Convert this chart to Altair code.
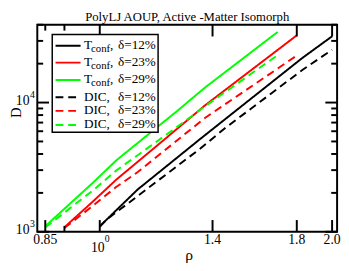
import altair as alt
import pandas as pd

# ---- data (rho, D) ----
series_names = ["Tconf, δ=12%", "Tconf, δ=23%", "Tconf, δ=29%",
                "DIC, δ=12%", "DIC, δ=23%", "DIC, δ=29%"]
series_colors = ["#000000", "#ff0000", "#00ff00", "#000000", "#ff0000", "#00ff00"]
series_dashes = [[1, 0], [1, 0], [1, 0], [8, 5], [8, 5], [8, 5]]

rho_T12 = [1.0, 1.12, 1.35, 1.83, 2.0]
D_T12 = [1103, 2127, 5237, 22130, 32560]
rho_T23 = [0.90, 0.98, 1.05, 1.26, 1.37, 1.80]
D_T23 = [1084, 1717, 2526, 6272, 9548, 33130]
rho_T29 = [0.85, 0.98, 1.05, 1.26, 1.37, 1.70]
D_T29 = [1103, 2399, 3560, 8613, 13115, 35170]
rho_DIC12 = [1.0, 1.02, 1.35, 1.45, 1.83, 2.0]
D_DIC12 = [1090, 1239, 4411, 6272, 17860, 25600]
rho_DIC23 = [0.90, 0.98, 1.05, 1.12, 1.37, 1.80]
D_DIC23 = [1071, 1590, 2221, 2897, 7639, 23100]
rho_DIC29 = [0.85, 0.98, 1.05, 1.26, 1.37, 1.70]
D_DIC29 = [1080, 2091, 2973, 6491, 9384, 23300]

# ---- axis ticks / labels ----
x_major_bottom = [0.85, 1.0, 1.4, 1.8, 2.0]
x_minor_bottom = [0.9]
x_major_top = [1.0, 1.4, 1.8, 2.0]
x_minor_top = [0.85, 0.9]
x_label_values = [0.85, 1.4, 1.8, 2.0]
x_label_texts = ["0.85", "1.4", "1.8", "2.0"]
x_pow_values = [1.0]
x_pow_exps = ["0"]
y_major = [1000, 10000]
y_minor = [2000, 3000, 4000, 5000, 6000, 7000, 8000, 9000, 20000, 30000, 40000]
y_pow_exps = ["3", "4"]

W, H = 307, 212
FONT = "Liberation Serif"

xscale = alt.Scale(type="log", domain=[0.83, 2.03], nice=False)
yscale = alt.Scale(type="log", domain=[1000, 40000], nice=False)

rows = []
for name, rs, ds in zip(series_names,
                        [rho_T12, rho_T23, rho_T29, rho_DIC12, rho_DIC23, rho_DIC29],
                        [D_T12, D_T23, D_T29, D_DIC12, D_DIC23, D_DIC29]):
    for r, d in zip(rs, ds):
        rows.append({"series": name, "rho": r, "D": d})
df = pd.DataFrame(rows)

lines = alt.Chart(df).mark_line(strokeWidth=2, clip=True).encode(
    x=alt.X("rho:Q", scale=xscale, axis=None),
    y=alt.Y("D:Q", scale=yscale, axis=None),
    color=alt.Color("series:N", scale=alt.Scale(domain=series_names, range=series_colors), legend=None),
    strokeDash=alt.StrokeDash("series:N", scale=alt.Scale(domain=series_names, range=series_dashes), legend=None),
)

def xticks(vals, y0, y1):
    return alt.Chart(pd.DataFrame({"rho": vals})).mark_rule(color="black", strokeWidth=2).encode(
        x=alt.X("rho:Q", scale=xscale, axis=None), y=alt.value(y0), y2=alt.value(y1))

def yticks(vals, x0, x1):
    return alt.Chart(pd.DataFrame({"D": vals})).mark_rule(color="black", strokeWidth=2).encode(
        y=alt.Y("D:Q", scale=yscale, axis=None), x=alt.value(x0), x2=alt.value(x1))

ticks = [
    xticks(x_major_bottom, H, H - 12), xticks(x_minor_bottom, H, H - 6),
    xticks(x_major_top, 0, 12), xticks(x_minor_top, 0, 6),
    yticks(y_major, 0, 12), yticks(y_minor, 0, 6),
    yticks(y_major, W, W - 12), yticks(y_minor, W, W - 6),
]

xlab = alt.Chart(pd.DataFrame({"rho": x_label_values, "t": x_label_texts})).mark_text(
    font=FONT, fontSize=14, color="black", baseline="middle", align="center").encode(
    x=alt.X("rho:Q", scale=xscale, axis=None), y=alt.value(H + 9), text="t:N")
xpow_base = alt.Chart(pd.DataFrame({"rho": x_pow_values, "b": ["10"] * len(x_pow_values)})).mark_text(
    font=FONT, fontSize=14, color="black", baseline="middle", align="center", dx=-2).encode(
    x=alt.X("rho:Q", scale=xscale, axis=None), y=alt.value(H + 16.5), text="b:N")
xpow_exp = alt.Chart(pd.DataFrame({"rho": x_pow_values, "e": x_pow_exps})).mark_text(
    font=FONT, fontSize=10, color="black", baseline="middle", align="left", dx=5).encode(
    x=alt.X("rho:Q", scale=xscale, axis=None), y=alt.value(H + 7.5), text="e:N")
ypow_base = alt.Chart(pd.DataFrame({"D": y_major, "b": ["10"] * len(y_major)})).mark_text(
    font=FONT, fontSize=14, color="black", baseline="middle", align="right", dy=-2).encode(
    y=alt.Y("D:Q", scale=yscale, axis=None), x=alt.value(-8), text="b:N")
ypow_exp = alt.Chart(pd.DataFrame({"D": y_major, "e": y_pow_exps})).mark_text(
    font=FONT, fontSize=10, color="black", baseline="middle", align="left", dy=-8).encode(
    y=alt.Y("D:Q", scale=yscale, axis=None), x=alt.value(-7.5), text="e:N")

one = pd.DataFrame({"a": [0]})
title = alt.Chart(one).mark_text(font=FONT, fontSize=13, color="black", align="center",
                                 baseline="alphabetic").encode(
    x=alt.value(W / 2), y=alt.value(-4), text=alt.value("PolyLJ AOUP, Active -Matter Isomorph"))
xtitle = alt.Chart(one).mark_text(font=FONT, fontSize=16, color="black", align="center",
                                  baseline="alphabetic").encode(
    x=alt.value(W / 2 + 2), y=alt.value(H + 28.5), text=alt.value("ρ"))
ytitle = alt.Chart(one).mark_text(font=FONT, fontSize=15, color="black", align="center",
                                  baseline="alphabetic", angle=270).encode(
    x=alt.value(-16.5), y=alt.value(90), text=alt.value("D"))

# ---- legend ----
legend_layers = [alt.Chart(one).mark_rect(fill="white", stroke="black", strokeWidth=1.5).encode(
    x=alt.value(15.3), x2=alt.value(123.7), y=alt.value(10), y2=alt.value(110))]
row_y = [21.5, 38.8, 56.5, 74.2, 88.2, 102.7]
for i, name in enumerate(series_names):
    ly = row_y[i]
    legend_layers.append(alt.Chart(one).mark_rule(
        color=series_colors[i], strokeWidth=2, strokeDash=series_dashes[i]).encode(
        x=alt.value(18.7), x2=alt.value(44.3), y=alt.value(ly)))
    head, delta = name.split(", ")
    txt = dict(font=FONT, color="black", align="left", baseline="alphabetic")
    if head == "Tconf":
        legend_layers.append(alt.Chart(one).mark_text(fontSize=13.5, **txt).encode(
            x=alt.value(47.7), y=alt.value(ly + 3.5), text=alt.value("T")))
        legend_layers.append(alt.Chart(one).mark_text(fontSize=11, **txt).encode(
            x=alt.value(55), y=alt.value(ly + 6.5), text=alt.value("conf")))
        legend_layers.append(alt.Chart(one).mark_text(fontSize=13.5, **txt).encode(
            x=alt.value(74.5), y=alt.value(ly + 3.5), text=alt.value(",")))
    else:
        legend_layers.append(alt.Chart(one).mark_text(fontSize=13.5, **txt).encode(
            x=alt.value(47.7), y=alt.value(ly + 3.5), text=alt.value(head + ",")))
    legend_layers.append(alt.Chart(one).mark_text(fontSize=13.5, **txt).encode(
        x=alt.value(82.7), y=alt.value(ly + 3.5), text=alt.value(delta)))

chart = alt.layer(
    lines, *ticks, xlab, xpow_base, xpow_exp, ypow_base, ypow_exp,
    title, xtitle, ytitle, *legend_layers
).properties(
    width=W, height=H,
    padding={"left": 30, "top": 14, "right": 4, "bottom": 37},
    autosize=alt.AutoSizeParams(type="none"),
    background="white",
).configure_view(stroke="black", strokeWidth=2)

chart.save("out.html", embed_options={"renderer": "svg", "actions": False})
